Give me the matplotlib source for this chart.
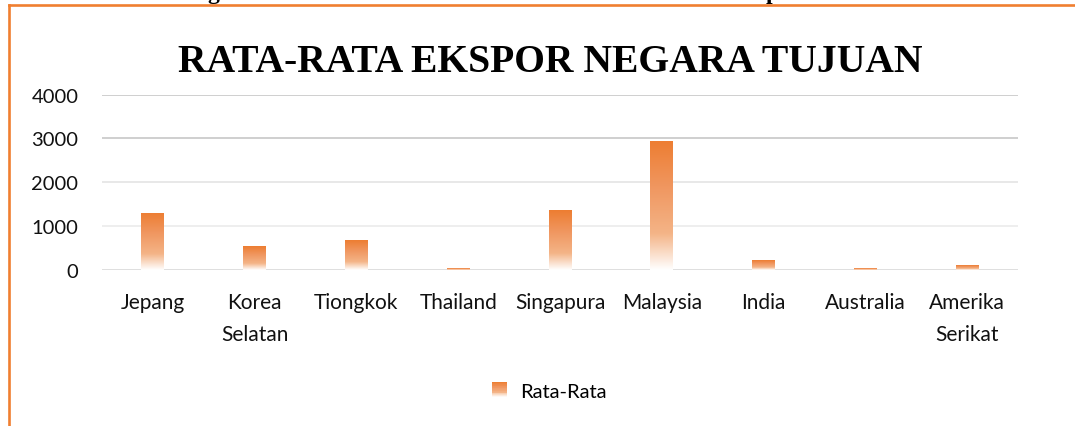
import numpy as np
import matplotlib
matplotlib.use("Agg")
import matplotlib.pyplot as plt
from matplotlib.patches import Rectangle
from matplotlib.lines import Line2D
from matplotlib.legend_handler import HandlerBase

# data
negara = ["Jepang", "Korea\nSelatan", "Tiongkok", "Thailand", "Singapura",
          "Malaysia", "India", "Australia", "Amerika\nSerikat"]
rata_rata = [1310, 540, 680, 40, 1360, 2950, 225, 40, 110]
yticks = [0, 1000, 2000, 3000, 4000]
judul = "RATA-RATA EKSPOR NEGARA TUJUAN"
seri = "Rata-Rata"

oranye = "#ED7D31"
grid_warna = ["#dcdcdc", "#ededed", "#e6e6e6", "#cccccc", "#cccccc"]


def warna_gradasi(f):
    # f = 0 at top of bar, 1 at bottom
    stops = np.array([0.0, 0.35, 0.72, 1.0])
    r = np.interp(f, stops, [237, 240, 244, 255])
    g = np.interp(f, stops, [125, 150, 180, 255])
    b = np.interp(f, stops, [49, 95, 135, 255])
    return np.stack([r, g, b], axis=-1) / 255.0


class HandlerGradasi(HandlerBase):
    def create_artists(self, legend, orig_handle, xdescent, ydescent,
                       width, height, fontsize, trans):
        n = 20
        out = []
        for i in range(n):
            f = (i + 0.5) / n
            c = warna_gradasi(np.array(f))
            y0 = -ydescent + height * (1 - (i + 1) / n)
            r = Rectangle((-xdescent, y0), width, height / n + 0.3,
                          facecolor=c, edgecolor="none", transform=trans)
            out.append(r)
        return out


fig = plt.figure(figsize=(10.75, 4.27), dpi=100)
ax = fig.add_axes([0.0949, 0.3653, 0.852, 0.411])

x = np.arange(len(negara))
lebar = 0.225
bars = ax.bar(x, rata_rata, width=lebar, color="none", edgecolor="none", zorder=3)

grad = warna_gradasi(np.linspace(0, 1, 256))[:, None, :]
for b in bars:
    im = ax.imshow(grad, extent=[b.get_x(), b.get_x() + b.get_width(), 0, b.get_height()],
                   aspect="auto", zorder=3, interpolation="bilinear")
    im.set_clip_path(b)

for t, c in zip(yticks, grid_warna):
    ax.axhline(t, color=c, lw=1.3, zorder=1)

ax.set_xlim(-0.5, len(negara) - 0.5)
ax.set_ylim(0, 4000)
ax.set_yticks(yticks)
ax.set_xticks(x)
ax.set_xticklabels(negara, fontsize=15, family="Lato", linespacing=1.75, color="#111111")
ax.set_yticklabels([str(t) for t in yticks], fontsize=14.5, family="Lato", color="#111111")
ax.tick_params(axis="both", length=0)
ax.tick_params(axis="x", pad=16)
ax.tick_params(axis="y", pad=17)
for s in ax.spines.values():
    s.set_visible(False)

fig.text(550 / 1075, 1 - 63 / 427, judul, ha="center", va="center",
         fontsize=28.5, fontweight="bold", family="Liberation Serif")

fig.legend([Rectangle((0, 0), 1, 1)], [seri], handler_map={Rectangle: HandlerGradasi()},
           loc="center", bbox_to_anchor=(0.511, 0.082), frameon=False,
           prop={"family": "Lato", "size": 14.5}, handlelength=0.72, handleheight=0.72,
           handletextpad=0.65)

# orange frame of the embedded chart
fig.add_artist(Line2D([8.5 / 1075, 8.5 / 1075], [0, 1 - 6 / 427], color="#F07F30",
                      lw=1.9, transform=fig.transFigure))
fig.add_artist(Line2D([8.5 / 1075, 1], [1 - 6 / 427, 1 - 6 / 427], color="#F07F30",
                      lw=1.9, transform=fig.transFigure))

# descenders of the cut-off caption above the chart
fig.text(213 / 1075, 1 + 1.5 / 427, "g", ha="center", va="baseline",
         fontsize=17, fontweight="bold", family="Liberation Serif")
fig.text(772 / 1075, 1 + 1.5 / 427, "p", ha="center", va="baseline",
         fontsize=17, fontweight="bold", family="Liberation Serif")

fig.savefig("out.png", dpi=100)
